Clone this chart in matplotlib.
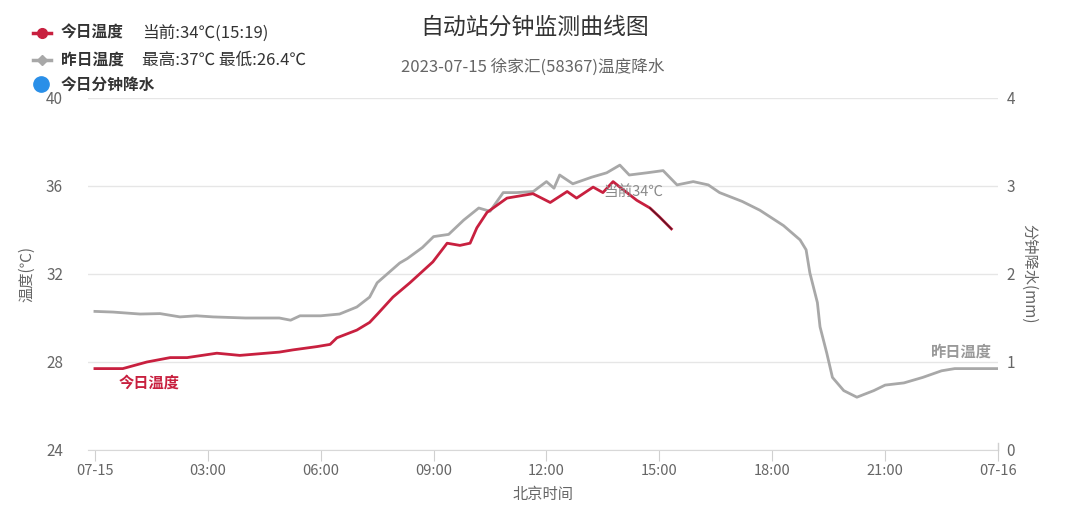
import numpy as np
import matplotlib
matplotlib.use("Agg")
import matplotlib.pyplot as plt
from matplotlib.lines import Line2D

plt.rcParams['font.family'] = ['Noto Sans CJK SC', 'DejaVu Sans']

# yesterday's temperature (hour, degC)
yest_hours = [0.0, 0.48, 1.2, 1.73, 2.26, 2.7, 3.14, 4.0, 4.9, 5.2, 5.45, 6.0,
              6.5, 6.96, 7.3, 7.5, 8.1, 8.3, 8.7, 9.0, 9.4, 9.8, 10.2, 10.5,
              10.85, 11.2, 11.65, 12.0, 12.2, 12.35, 12.7, 13.2, 13.6, 13.95,
              14.2, 14.67, 15.1, 15.47, 15.9, 16.3, 16.6, 17.2, 17.67, 18.3,
              18.74, 18.9, 19.0, 19.2, 19.27, 19.45, 19.6, 19.9, 20.25, 20.7,
              21.0, 21.5, 22.0, 22.5, 22.85, 23.5, 24.0]
yest_temp = [30.3, 30.27, 30.18, 30.2, 30.05, 30.1, 30.05, 30.0, 30.0, 29.9,
             30.1, 30.1, 30.18, 30.5, 30.95, 31.6, 32.5, 32.7, 33.2, 33.7,
             33.8, 34.45, 35.0, 34.85, 35.7, 35.7, 35.75, 36.2, 35.9, 36.5,
             36.1, 36.4, 36.6, 36.95, 36.5, 36.6, 36.7, 36.05, 36.2, 36.05,
             35.7, 35.3, 34.9, 34.2, 33.55, 33.1, 32.05, 30.7, 29.6, 28.4,
             27.3, 26.7, 26.4, 26.7, 26.95, 27.05, 27.3, 27.6, 27.7, 27.7,
             27.7]

# today's temperature up to 15:19
today_hours = [0.0, 0.74, 1.38, 2.0, 2.45, 3.24, 3.85, 4.9, 5.26, 5.9, 6.25,
               6.43, 6.96, 7.3, 7.52, 7.92, 8.37, 8.98, 9.36, 9.7, 9.97, 10.15,
               10.42, 10.95, 11.64, 12.1, 12.55, 12.8, 13.24, 13.5, 13.77,
               13.95, 14.4, 14.75, 15.0, 15.32]
today_temp = [27.7, 27.7, 28.0, 28.2, 28.2, 28.4, 28.3, 28.45, 28.55, 28.7,
              28.8, 29.1, 29.45, 29.8, 30.2, 30.95, 31.6, 32.55, 33.4, 33.3,
              33.4, 34.1, 34.8, 35.45, 35.65, 35.25, 35.75, 35.45, 35.95, 35.7,
              36.2, 35.95, 35.35, 35.0, 34.6, 34.05]

xtick_pos = [0, 3, 6, 9, 12, 15, 18, 21, 24]
xtick_labels = ["07-15", "03:00", "06:00", "09:00", "12:00", "15:00",
                "18:00", "21:00", "07-16"]
ytick_left = [24, 28, 32, 36, 40]
ytick_right = [0, 1, 2, 3, 4]

RED = "#c8203f"
GRAY = "#a8a8a8"
BLUE = "#2a8fe8"
TXT = "#666666"

fig = plt.figure(figsize=(10.8, 5.31), dpi=100)
ax = fig.add_axes([88 / 1080, 1 - 450 / 531, (998 - 88) / 1080, (450 - 98) / 531])

ax.plot(yest_hours, yest_temp, color=GRAY, lw=2.0, zorder=3)
ax.plot(today_hours, today_temp, color=RED, lw=2.0, zorder=4)
# darker tail of the current curve
ax.plot(today_hours[-3:], today_temp[-3:], color="#5a1424", lw=1.0, zorder=5)

ax.set_xlim(-7 / 37.92, 24)
ax.set_ylim(24, 40)
ax.set_yticks(ytick_left)
ax.set_xticks(xtick_pos)
ax.set_xticklabels(xtick_labels)
ax.grid(axis='y', color="#e6e6e6", lw=1)
ax.set_axisbelow(True)
for s in ["top", "right", "left"]:
    ax.spines[s].set_visible(False)
ax.spines["bottom"].set_color("#d8d8d8")
ax.tick_params(axis='x', colors="#d0d0d0", labelcolor=TXT, labelsize=10.5,
               length=8, pad=2)
ax.tick_params(axis='y', length=0, labelcolor=TXT, labelsize=11, pad=18)
ax.set_xlabel("北京时间", color=TXT, fontsize=11, labelpad=6)
ax.set_ylabel("温度(℃)", color=TXT, fontsize=11, labelpad=8)

ax2 = ax.twinx()
ax2.set_ylim(0, 4)
ax2.set_yticks(ytick_right)
for s in ["top", "left", "bottom", "right"]:
    ax2.spines[s].set_visible(False)
ax2.tick_params(axis='y', length=0, labelcolor=TXT, labelsize=11, pad=6)
ax2.set_ylabel("分钟降水(mm)", color=TXT, fontsize=11, rotation=-90,
               labelpad=16)
# small tick at the 0 line on the right
ax2.plot([24, 24], [0, 0.08], color="#d0d0d0", lw=1, clip_on=False)

ax.text(13.5, 35.72, "当前34℃", color="#8a8a8a", fontsize=10.5,
        ha='left', va='center', zorder=6)
ax.text(1.44, 27.05, "今日温度", color=RED, fontsize=11, fontweight='bold',
        ha='center', va='center')
ax.text(23.04, 28.45, "昨日温度", color="#999999", fontsize=11,
        fontweight='bold', ha='center', va='center')

# title
fig.text(535 / 1080, 1 - 27 / 531, "自动站分钟监测曲线图", color="#333333",
         fontsize=16.5, ha='center', va='center')
fig.text(533 / 1080, 1 - 67 / 531, "2023-07-15 徐家汇(58367)温度降水",
         color=TXT, fontsize=12, ha='center', va='center')

# legend
def fy(y):
    return 1 - y / 531

fig.add_artist(Line2D([33 / 1080, 51 / 1080], [fy(33), fy(33)], color=RED,
                      lw=2.5, transform=fig.transFigure))
fig.add_artist(Line2D([42 / 1080], [fy(33)], color=RED, marker='o',
                      markersize=7, transform=fig.transFigure))
fig.add_artist(Line2D([33 / 1080, 51 / 1080], [fy(60), fy(60)], color=GRAY,
                      lw=2.5, transform=fig.transFigure))
fig.add_artist(Line2D([42 / 1080], [fy(60)], color=GRAY, marker='D',
                      markersize=5, transform=fig.transFigure))
fig.add_artist(Line2D([41 / 1080], [fy(84)], color=BLUE, marker='o',
                      markersize=11, transform=fig.transFigure))

fig.text(61 / 1080, fy(33), "今日温度", color="#333333", fontsize=11.3,
         fontweight='bold', va='center')
fig.text(142 / 1080, fy(33), "当前:34℃(15:19)", color="#333333",
         fontsize=12, va='center')
fig.text(61 / 1080, fy(60), "昨日温度", color="#333333", fontsize=11.3,
         fontweight='bold', va='center')
fig.text(142 / 1080, fy(60), "最高:37℃ 最低:26.4℃", color="#333333",
         fontsize=12, va='center')
fig.text(61 / 1080, fy(85), "今日分钟降水", color="#333333", fontsize=11.3,
         fontweight='bold', va='center')

fig.savefig("out.png", dpi=100, facecolor="white")
